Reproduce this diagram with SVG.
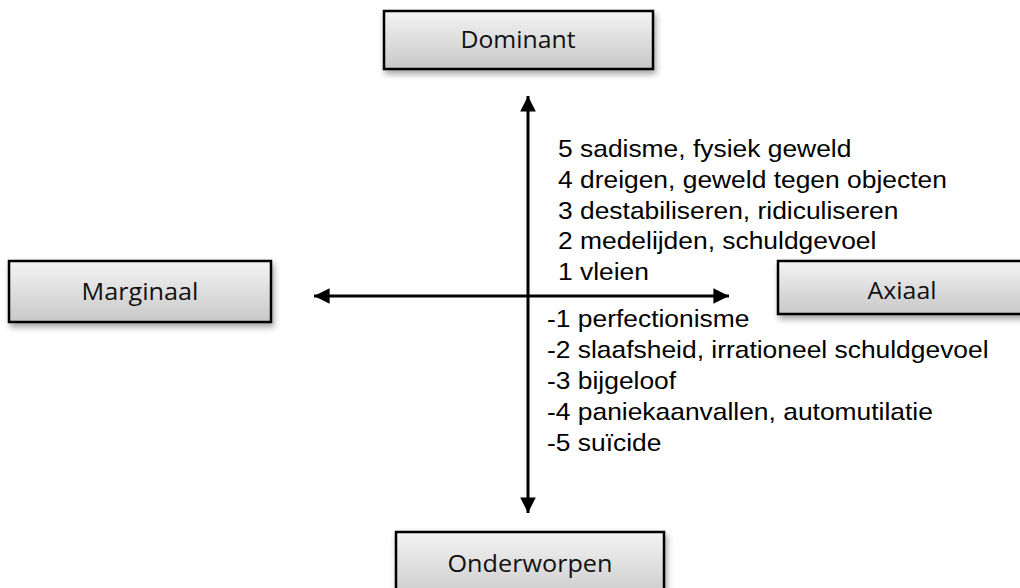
<svg xmlns="http://www.w3.org/2000/svg" width="1020" height="588" viewBox="0 0 1020 588">
  <defs>
    <linearGradient id="boxGrad" x1="0" y1="0" x2="0" y2="1">
      <stop offset="0" stop-color="#f4f4f4"/>
      <stop offset="1" stop-color="#c8c8c8"/>
    </linearGradient>
    <filter id="shadow" x="-10%" y="-20%" width="125%" height="160%">
      <feDropShadow dx="2" dy="4" stdDeviation="3" flood-color="#000" flood-opacity="0.35"/>
    </filter>
    <marker id="arrow" viewBox="0 0 10 10" refX="10" refY="5" markerWidth="5.2" markerHeight="5.2" markerUnits="strokeWidth" orient="auto-start-reverse">
      <path d="M0,0 L10,5 L0,10 Z" fill="#000"/>
    </marker>
    <style>
      .box { fill: url(#boxGrad); stroke: #000; stroke-width: 2.5; filter: url(#shadow); }
      .lbl { font-family: "Open Sans", "Liberation Sans", sans-serif; font-size: 23px; fill: #111; text-anchor: middle; }
      .item { font-family: "Liberation Sans", Arial, sans-serif; font-size: 24px; fill: #000; }
      .axis { stroke: #000; stroke-width: 3; fill: none; marker-start: url(#arrow); marker-end: url(#arrow); }
    </style>
  </defs>
  <rect width="1020" height="588" fill="#fff"/>

  <g id="connectors">
    <line class="axis" x1="528" y1="513" x2="528" y2="96"/>
    <line class="axis" x1="314" y1="296" x2="729" y2="296"/>
  </g>

  <g id="node-dominant">
    <rect class="box" x="384" y="11" width="269" height="58"/>
    <text class="lbl" x="518" y="48" textLength="115" lengthAdjust="spacingAndGlyphs">Dominant</text>
  </g>
  <g id="node-marginaal">
    <rect class="box" x="9" y="261" width="262" height="61"/>
    <text class="lbl" x="140" y="300" textLength="117" lengthAdjust="spacingAndGlyphs">Marginaal</text>
  </g>
  <g id="node-axiaal">
    <rect class="box" x="778" y="261" width="250" height="53"/>
    <text class="lbl" x="902" y="299" textLength="69" lengthAdjust="spacingAndGlyphs">Axiaal</text>
  </g>
  <g id="node-onderworpen">
    <rect class="box" x="396" y="532" width="268" height="70"/>
    <text class="lbl" x="530" y="572" textLength="165" lengthAdjust="spacingAndGlyphs">Onderworpen</text>
  </g>

  <g id="dominant-list" transform="translate(558 0) scale(1.1 1)">
    <text class="item" x="0" y="157">5 sadisme, fysiek geweld</text>
    <text class="item" x="0" y="188">4 dreigen, geweld tegen objecten</text>
    <text class="item" x="0" y="219">3 destabiliseren, ridiculiseren</text>
    <text class="item" x="0" y="249.5">2 medelijden, schuldgevoel</text>
    <text class="item" x="0" y="280">1 vleien</text>
  </g>
  <g id="onderworpen-list" transform="translate(547 0) scale(1.1 1)">
    <text class="item" x="0" y="327">-1 perfectionisme</text>
    <text class="item" x="0" y="358">-2 slaafsheid, irrationeel schuldgevoel</text>
    <text class="item" x="0" y="389">-3 bijgeloof</text>
    <text class="item" x="0" y="420">-4 paniekaanvallen, automutilatie</text>
    <text class="item" x="0" y="451">-5 suïcide</text>
  </g>
</svg>
